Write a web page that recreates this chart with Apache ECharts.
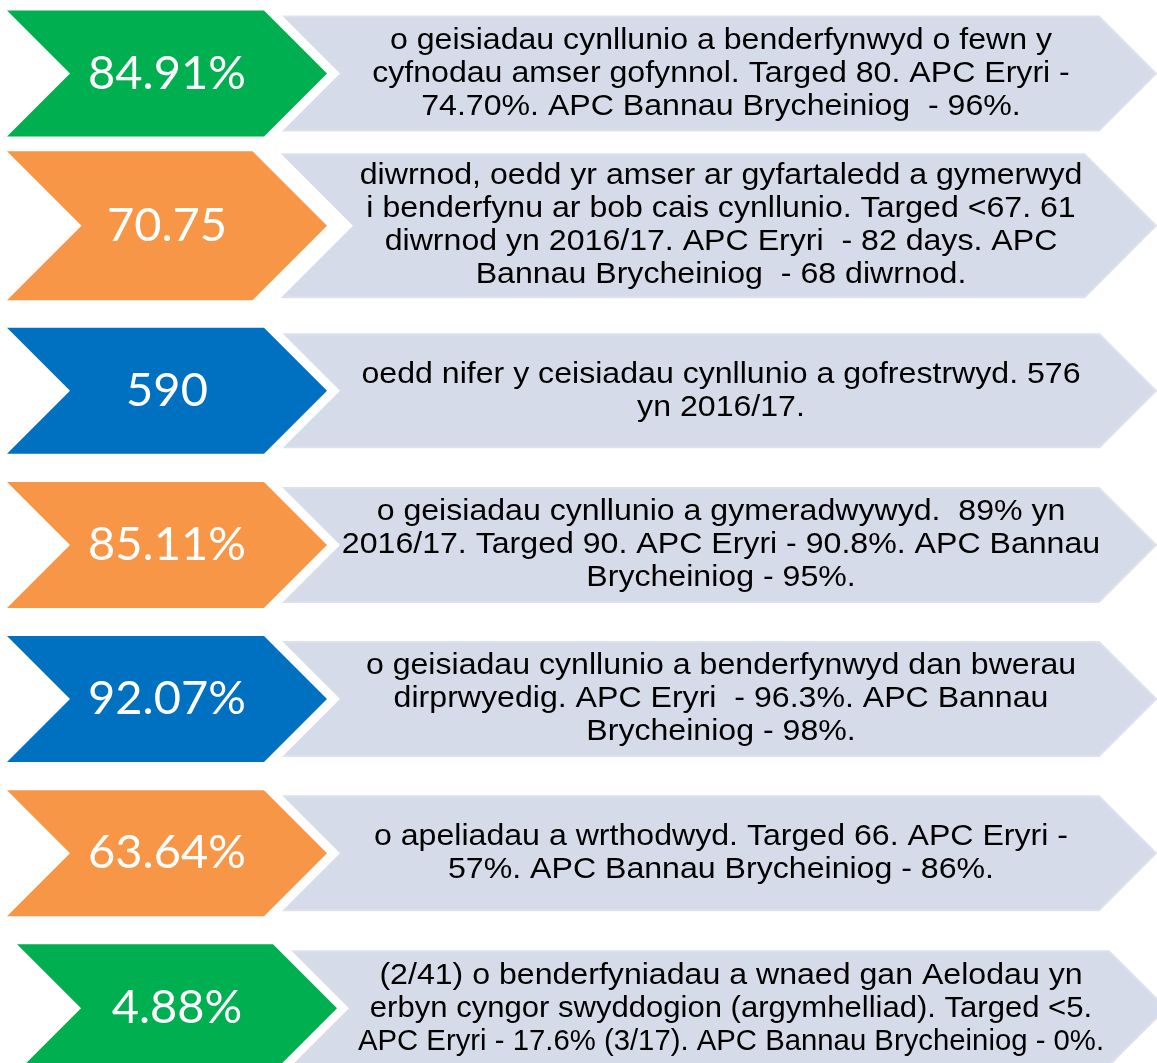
<!DOCTYPE html>
<html>
<head>
    <meta charset="utf-8">
    <title>Perfformiad cynllunio</title>
    <script src="https://cdn.jsdelivr.net/npm/echarts@6/dist/echarts.min.js"></script>
    <style>
        html, body { margin: 0; padding: 0; background: #fff; }
    </style>
</head>
<body>
    <div id="main" style="width: 1157px;height:1063px;"></div>
    <script type="text/javascript">
        // figures shown in the coloured chevrons
        var values = ['84.91%', '70.75', '590', '85.11%', '92.07%', '63.64%', '4.88%'];

        // colour group of each chevron
        var groups = ['green', 'orange', 'blue', 'orange', 'blue', 'orange', 'green'];

        // text in the grey arrows
        var notes = [
            'o geisiadau cynllunio a benderfynwyd o fewn y\ncyfnodau amser gofynnol. Targed 80. APC Eryri -\n74.70%. APC Bannau Brycheiniog  - 96%.',
            'diwrnod, oedd yr amser ar gyfartaledd a gymerwyd\ni benderfynu ar bob cais cynllunio. Targed <67. 61\ndiwrnod yn 2016/17. APC Eryri  - 82 days. APC\nBannau Brycheiniog  - 68 diwrnod.',
            'oedd nifer y ceisiadau cynllunio a gofrestrwyd. 576\nyn 2016/17.',
            'o geisiadau cynllunio a gymeradwywyd.  89% yn\n2016/17. Targed 90. APC Eryri - 90.8%. APC Bannau\nBrycheiniog - 95%.',
            'o geisiadau cynllunio a benderfynwyd dan bwerau\ndirprwyedig. APC Eryri  - 96.3%. APC Bannau\nBrycheiniog - 98%.',
            'o apeliadau a wrthodwyd. Targed 66. APC Eryri -\n57%. APC Bannau Brycheiniog - 86%.',
            '(2/41) o benderfyniadau a wnaed gan Aelodau yn\nerbyn cyngor swyddogion (argymhelliad). Targed <5.\nAPC Eryri - 17.6% (3/17). APC Bannau Brycheiniog - 0%.'
        ];

        // layout tweaks per row (pixels)
        var rowShift = [0, -4, 5, 3, 1, -1, -2];
        var chevronH = [126, 149, 126, 126, 126, 126, 128];
        var greyH = [114, 143, 113, 114, 114, 114, 114];
        var xShift = [0, 0, 0, 0, 0, 0, 10];
        var whiteGap = [13, 26, 13, 13, 13, 13, 12];
        // horizontal squeeze of text lines that are set tighter in the original
        var lineScale = { '6-1': 1.035, '6-2': 0.977 };

        var palette = { green: '#00b050', orange: '#f79646', blue: '#0070c0' };

        var chartDom = document.getElementById('main');
        var myChart = echarts.init(chartDom, null, {renderer: 'canvas'});

        function chevron(L, R, cy, h, notch) {
            var pts = [[L, cy - h], [R - h, cy - h], [R, cy], [R - h, cy + h], [L, cy + h]];
            if (notch) pts.push([L + h, cy]);
            return pts;
        }

        function renderRow(params, api) {
            var i = params.dataIndex;
            var xs = xShift[i];
            var px = function (x) { return api.coord([x + xs, i])[0]; };
            var cy = api.coord([0, i])[1] + rowShift[i];
            var h = chevronH[i] / 2;
            var gh = greyH[i] / 2;
            var gap = whiteGap[i];

            var children = [{
                type: 'polygon',
                shape: { points: chevron(px(282), px(1156), cy, gh, false) },
                style: { fill: '#d6dbea', stroke: '#dde1ee', lineWidth: 2 }
            }, {
                type: 'polygon',
                shape: { points: chevron(px(7) + gap, px(327) + gap, cy, h, true) },
                style: { fill: '#ffffff' }
            }, {
                type: 'polygon',
                shape: { points: chevron(px(7), px(327), cy, h, true) },
                style: { fill: palette[groups[i]] }
            }, {
                type: 'text',
                x: px(167), y: cy,
                style: {
                    text: values[i],
                    x: 0, y: 0,
                    fill: '#ffffff',
                    font: '47px Lato',
                    align: 'center', verticalAlign: 'middle'
                }
            }];

            var lines = notes[i].split('\n');
            lines.forEach(function (line, k) {
                children.push({
                    type: 'text',
                    x: px(721),
                    y: cy + (k - (lines.length - 1) / 2) * 33,
                    scaleX: lineScale[i + '-' + k] || 1.07,
                    style: {
                        text: line,
                        x: 0, y: 0,
                        fill: '#000000',
                        fontSize: 30,
                        fontFamily: '"Liberation Sans", Arial',
                        align: 'center', verticalAlign: 'middle'
                    }
                });
            });

            return { type: 'group', children: children };
        }

        var option = {
            animation: false,
            grid: { left: 0, right: 0, top: 0, bottom: 0 },
            xAxis: { type: 'value', min: 0, max: 1157, show: false },
            yAxis: {
                type: 'value',
                inverse: true,
                min: -0.4715,
                max: 6.338,
                show: false
            },
            series: [{
                type: 'custom',
                renderItem: renderRow,
                encode: { x: 0, y: 1 },
                clip: false,
                data: values.map(function (v, i) { return [0, i]; })
            }]
        };
        myChart.setOption(option);
    </script>
</body>
</html>
